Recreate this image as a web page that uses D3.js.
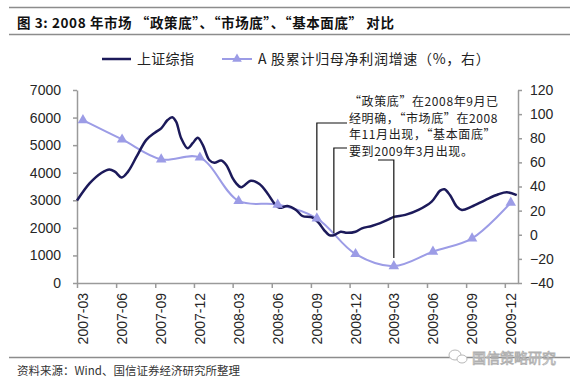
<!DOCTYPE html>
<html lang="zh">
<head>
<meta charset="utf-8">
<title>2008年市场“政策底”、“市场底”、“基本面底”对比</title>
<script src="https://d3js.org/d3.v7.min.js"></script>
<style>
  body { margin: 0; background: #fff; }
  svg { display: block; }
  .cjk { font-family: "Noto Sans CJK SC", sans-serif; }
  .axis text { font-family: "Liberation Sans", Arial, sans-serif; font-size: 14px; fill: #262626; }
  .axis path, .axis line { stroke: #9a9a9a; stroke-width: 1.5; }
</style>
</head>
<body>
<script>
// A股累计归母净利润增速（%，右轴），季度
const quarters = ["2007-03", "2007-06", "2007-09", "2007-12", "2008-03", "2008-06",
                  "2008-09", "2008-12", "2009-03", "2009-06", "2009-09", "2009-12"];
const profitGrowth = [95, 79, 62.5, 64, 28, 25, 13.6, -16, -26, -14, -3, 26.6];

// 上证综指（左轴）
const sseDates = ["2007-03-01", "2007-03-31", "2007-04-28", "2007-05-16", "2007-05-29", "2007-06-14",
  "2007-06-29", "2007-07-19", "2007-08-11", "2007-08-31", "2007-09-15", "2007-09-30", "2007-10-11",
  "2007-10-20", "2007-11-01", "2007-11-16", "2007-11-28", "2007-12-10", "2007-12-22", "2008-01-06",
  "2008-01-18", "2008-02-03", "2008-02-15", "2008-03-01", "2008-03-09", "2008-03-21", "2008-04-13",
  "2008-05-03", "2008-05-22", "2008-06-07", "2008-06-19", "2008-07-08", "2008-07-28", "2008-08-12",
  "2008-09-05", "2008-09-20", "2008-10-02", "2008-10-14", "2008-10-25", "2008-11-10", "2008-11-25",
  "2008-12-15", "2008-12-30", "2009-01-22", "2009-02-11", "2009-03-03", "2009-03-15", "2009-04-11",
  "2009-05-12", "2009-06-12", "2009-07-02", "2009-07-12", "2009-07-25", "2009-08-10", "2009-08-22",
  "2009-09-14", "2009-10-16", "2009-11-16", "2009-12-06", "2009-12-29"];
const sseValues = [2990, 3620, 4000, 4120, 4040, 3830,
  4040, 4580, 5190, 5450, 5610, 5910, 6010,
  5850, 5250, 4890, 5070, 5270, 5000, 4460,
  4360, 4440, 4280, 3800, 3620, 3470, 3710,
  3590, 3250, 2890, 2730, 2790, 2650, 2430,
  2370, 2170, 1920, 1740, 1730, 1860, 1820,
  1860, 1980, 2070, 2170, 2310, 2400, 2470,
  2650, 2950, 3350, 3400, 3190, 2770, 2650,
  2770, 3010, 3220, 3290, 3190];

const leftTicks = [0, 1000, 2000, 3000, 4000, 5000, 6000, 7000];
const rightTicks = [-40, -20, 0, 20, 40, 60, 80, 100, 120];

const titleText = "图 3: 2008 年市场 “政策底”、“市场底”、“基本面底” 对比";
const legendNames = ["上证综指", "A 股累计归母净利润增速（%，右）"];
const noteLines = ["“政策底”在2008年9月已", "经明确，“市场底”在2008", "年11月出现，“基本面底”", "要到2009年3月出现。"];
const sourceText = "资料来源：Wind、国信证券经济研究所整理";
const watermark = "国信策略研究";

const width = 576, height = 379;
const navy = "#1c1a5a", lilac = "#9c9ce6";

const parseDay = d3.timeParse("%Y-%m-%d");
const parseMonth = d3.timeParse("%Y-%m");
const midMonth = m => d3.timeDay.offset(parseMonth(m), 14);

const sse = sseDates.map((d, i) => ({ date: parseDay(d), value: sseValues[i] }));
const profit = quarters.map((q, i) => ({ date: midMonth(q), value: profitGrowth[i] }));

const svg = d3.select("body").append("svg")
  .attr("width", width)
  .attr("height", height);

const x = d3.scaleTime()
  .domain([parseDay("2007-03-01"), parseDay("2010-01-01")])
  .range([77, 518]);
const yL = d3.scaleLinear().domain([0, 7000]).range([283, 90]);
const yR = d3.scaleLinear().domain([-40, 120]).range([283, 90]);

// title and rules
svg.append("line").attr("x1", 9).attr("x2", 570).attr("y1", 7.5).attr("y2", 7.5)
  .attr("stroke", "#8c8c8c").attr("stroke-width", 1.5);
svg.append("line").attr("x1", 9).attr("x2", 570).attr("y1", 34.5).attr("y2", 34.5)
  .attr("stroke", "#8c8c8c").attr("stroke-width", 1.5);
svg.append("text").attr("class", "cjk")
  .attr("x", 17).attr("y", 27.5)
  .attr("font-size", 13.5).attr("font-weight", "bold").attr("fill", "#111")
  .attr("letter-spacing", 0.6)
  .text(titleText);

// legend
const lg = svg.append("g").attr("class", "cjk").attr("font-size", 14).attr("fill", "#222");
lg.append("line").attr("x1", 102).attr("x2", 131).attr("y1", 59).attr("y2", 59)
  .attr("stroke", navy).attr("stroke-width", 2.5);
lg.append("text").attr("x", 137).attr("y", 64).attr("letter-spacing", 0.3).text(legendNames[0]);
lg.append("line").attr("x1", 222).attr("x2", 252).attr("y1", 59).attr("y2", 59)
  .attr("stroke", lilac).attr("stroke-width", 2);
lg.append("path").attr("d", d3.symbol(d3.symbolTriangle, 40)())
  .attr("transform", "translate(237,59)").attr("fill", lilac);
lg.append("text").attr("x", 258).attr("y", 64).attr("letter-spacing", 0.7).text(legendNames[1]);

// axes
svg.append("g").attr("class", "axis")
  .attr("transform", "translate(77,0)")
  .call(d3.axisLeft(yL).tickValues(leftTicks).tickFormat(d3.format("d"))
    .tickSize(4).tickPadding(12).tickSizeOuter(0));
svg.append("g").attr("class", "axis")
  .attr("transform", "translate(518,0)")
  .call(d3.axisRight(yR).tickValues(rightTicks).tickFormat(d3.format("d"))
    .tickSize(4).tickPadding(8).tickSizeOuter(0));
svg.append("g").attr("class", "axis")
  .attr("transform", "translate(0,283)")
  .call(d3.axisBottom(x).tickValues(quarters.map(q => parseMonth(q)))
    .tickSize(5).tickSizeOuter(0).tickFormat(""));
svg.append("g").attr("class", "axis")
  .selectAll("text")
  .data(quarters)
  .join("text")
  .attr("transform", q => `translate(${x(midMonth(q)) + 5},293) rotate(-90)`)
  .attr("text-anchor", "end")
  .text(q => q);

// series
const line = d3.line().curve(d3.curveCatmullRom.alpha(0.5)).x(d => x(d.date));

svg.append("path")
  .datum(profit)
  .attr("fill", "none")
  .attr("stroke", lilac)
  .attr("stroke-width", 2)
  .attr("d", line.y(d => yR(d.value)));

svg.append("path")
  .datum(sse)
  .attr("fill", "none")
  .attr("stroke", navy)
  .attr("stroke-width", 2.5)
  .attr("d", line.y(d => yL(d.value)));

svg.selectAll(".tri")
  .data(profit)
  .join("path")
  .attr("class", "tri")
  .attr("d", d3.symbol(d3.symbolTriangle, 48)())
  .attr("transform", d => `translate(${x(d.date)},${yR(d.value)})`)
  .attr("fill", lilac);

// annotation callouts
const policy = profit[quarters.indexOf("2008-09")];
const marketLow = sse.reduce((a, b) => (b.value < a.value ? b : a));
const fundamental = profit[quarters.indexOf("2009-03")];
const callout = svg.append("g").attr("fill", "none").attr("stroke", "#111").attr("stroke-width", 1.2);
callout.append("polyline").attr("points",
  `347,123 ${x(policy.date)},123 ${x(policy.date)},${yR(policy.value) - 8}`);
callout.append("polyline").attr("points",
  `347,148 ${x(marketLow.date)},148 ${x(marketLow.date)},${yL(marketLow.value) - 2}`);
callout.append("polyline").attr("points",
  `378,160 ${x(fundamental.date)},160 ${x(fundamental.date)},${yR(fundamental.value) - 8}`);

svg.append("g").attr("class", "cjk").attr("font-size", 12).attr("fill", "#222")
  .attr("letter-spacing", 0.6)
  .selectAll("text")
  .data(noteLines)
  .join("text")
  .attr("x", 349)
  .attr("y", (d, i) => 106 + i * 16.5)
  .text(d => d);

// footer
svg.append("line").attr("x1", 9).attr("x2", 570).attr("y1", 357.5).attr("y2", 357.5)
  .attr("stroke", "#8c8c8c").attr("stroke-width", 1.5);
svg.append("text").attr("class", "cjk")
  .attr("x", 17).attr("y", 375)
  .attr("font-size", 11.5).attr("fill", "#333")
  .text(sourceText);

const wm = svg.append("g").attr("fill", "#fff").attr("stroke", "#b8b8b8").attr("stroke-width", 1);
wm.append("ellipse").attr("cx", 455).attr("cy", 355).attr("rx", 6).attr("ry", 5);
wm.append("ellipse").attr("cx", 462).attr("cy", 359).attr("rx", 5).attr("ry", 4);
svg.append("text").attr("class", "cjk")
  .attr("x", 472).attr("y", 362.5)
  .attr("font-size", 14).attr("fill", "#fff")
  .attr("stroke", "#b0b0b0").attr("stroke-width", 0.8)
  .text(watermark);
</script>
</body>
</html>
